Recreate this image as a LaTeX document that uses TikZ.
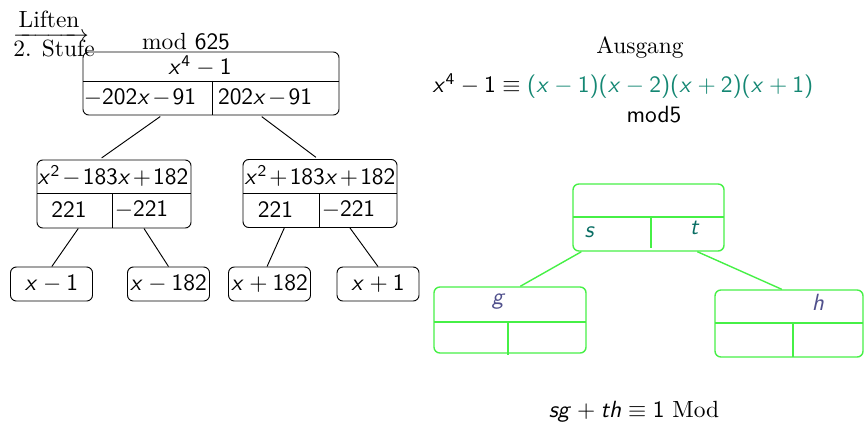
\documentclass[tikz,border=0pt]{standalone}
\usepackage{amsmath,amssymb}
\usepackage{tikz}

% sans serif math as in slides
\DeclareSymbolFont{sfletters}{OT1}{cmss}{m}{sl}
\SetSymbolFont{operators}{normal}{OT1}{cmss}{m}{n}
\DeclareMathSymbol{x}{\mathalpha}{sfletters}{`x}
\DeclareMathSymbol{s}{\mathalpha}{sfletters}{`s}
\DeclareMathSymbol{t}{\mathalpha}{sfletters}{`t}
\DeclareMathSymbol{g}{\mathalpha}{sfletters}{`g}
\DeclareMathSymbol{h}{\mathalpha}{sfletters}{`h}

\definecolor{boxgreen}{RGB}{70,240,70}
\definecolor{factteal}{RGB}{20,135,115}
\definecolor{stteal}{RGB}{10,110,100}
\definecolor{ghblue}{RGB}{80,80,140}

\tikzset{
  polybox/.style={draw, rounded corners=2.5pt, inner sep=0pt, minimum width=2.31cm, minimum height=1.02cm},
  leafbox/.style={draw, rounded corners=2.5pt, inner sep=0pt, minimum width=1.23cm, minimum height=0.51cm},
  greenbox/.style={polybox, draw=boxgreen, line width=0.6pt},
  greenline/.style={boxgreen, line width=0.6pt},
  tight/.style={execute at begin node={\medmuskip=1.6mu}}
}

\begin{document}
\begin{tikzpicture}[x=0.015cm, y=-0.015cm]
	\useasboundingbox (0,0) rectangle (864,425);
	% left: lifting mod 625
	\node (lift) at (51,25) {$\xrightarrow{\displaystyle\text{Liften}}$};
	\node (stufe) at (54,48) {2. Stufe};
	\node (mod) at (186,41) {mod $625$};
	\node[polybox, minimum width=3.84cm, minimum height=0.945cm] (root) at (211,83.5) {};
	\draw (83,81) -- (339,81);
	\draw (212,81) -- (212,115);
	\node (rtop) at (200,66) {$x^4-1$};
	\node[tight] (rl) at (140,98) {$-202x-91$};
	\node[tight] (rr) at (265,98) {$202x-91$};
	\node[polybox] (l1) at (114,194) {};
	\draw (37,193) -- (191,193);
	\draw (112,193) -- (112,228);
	\node[tight] (l1top) at (113,176) {$x^2-183x+182$};
	\node (l1l) at (69,210) {$221$};
	\node (l1r) at (141.5,210) {$-221$};
	\node[polybox] (r1) at (320,193.5) {};
	\draw (243,193) -- (397,193);
	\draw (319,193) -- (319,228);
	\node[tight] (r1top) at (320,176) {$x^2+183x+182$};
	\node (r1l) at (275.5,210) {$221$};
	\node (r1r) at (348.5,210) {$-221$};
	\draw[shorten <=0.8pt, shorten >=1.2pt] (root.213.6) -- (l1.113.8);
	\draw[shorten <=0.8pt, shorten >=1.2pt] (root.327) -- (r1.93.3);
	\node[leafbox] (a) at (51.5,284) {$x-1$};
	\node[leafbox] (b) at (168.5,284) {$x-182$};
	\node[leafbox] (c) at (269.5,284) {$x+182$};
	\node[leafbox] (d) at (378,284) {$x+1$};
	\draw (l1.224.2) -- (a.89);
	\draw (l1.311.4) -- (b.90);
	\draw (r1.224.6) -- (c.98.4);
	\draw (r1.311.9) -- (d.90);
	% right: starting point mod 5
	\node (ausg) at (640,48) {Ausgang};
	\node (eq) at (623,86) {$x^4-1\equiv\textcolor{factteal}{(x-1)(x-2)(x+2)(x+1)}$};
	\node (mod5) at (654,114) {$\mathrm{mod}5$};
	\node[greenbox, minimum width=2.265cm, minimum height=1.005cm] (st) at (648.5,217.5) {};
	\draw[greenline] (573,217) -- (724,217);
	\draw[greenline] (651,217) -- (651,248);
	\node[stteal] (s) at (590,232) {$s$};
	\node[stteal] (t) at (695,228) {$t$};
	\node[greenbox, minimum width=2.28cm, minimum height=0.99cm] (g) at (510,320) {};
	\draw[greenline] (434,322) -- (586,322);
	\draw[greenline] (508,322) -- (508,355);
	\node[ghblue] (gl) at (499,302) {$g$};
	\node[greenbox, minimum width=2.22cm, minimum height=1.005cm] (h) at (789,323.5) {};
	\draw[greenline] (715,323) -- (863,323);
	\draw[greenline] (793,323) -- (793,357);
	\node[ghblue] (hl) at (818,302) {$h$};
	\draw[greenline] (st.207.8) -- (g.73.1);
	\draw[greenline] (st.325.9) -- (h.102.6);
	\node (syl) at (634,412) {$sg+th\equiv 1$ Mod};
\end{tikzpicture}
\end{document}
